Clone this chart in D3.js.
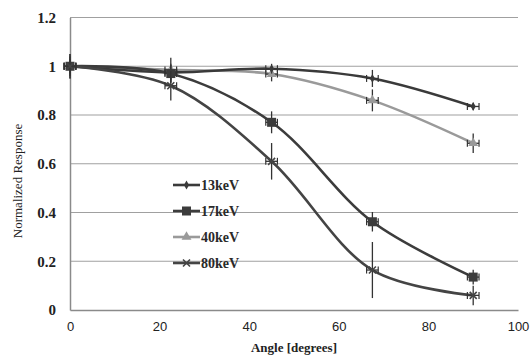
<!DOCTYPE html>
<html><head><meta charset="utf-8">
<script src="https://cdn.jsdelivr.net/npm/d3@7/dist/d3.min.js"></script>
<style>body{margin:0;background:#fff}svg{display:block}</style>
</head><body>
<svg id="c" width="530" height="356"></svg>
<script>
const angles = [0, 22.5, 45, 67.5, 90];
const seriesNames = ["13keV", "17keV", "40keV", "80keV"];
const v13 = [1.0, 0.975, 0.99, 0.95, 0.835];
const v17 = [1.0, 0.97, 0.77, 0.362, 0.135];
const v40 = [1.0, 0.985, 0.968, 0.86, 0.684];
const v80 = [1.0, 0.92, 0.61, 0.164, 0.06];
// vertical error (half-widths)
const e13 = [0.05, 0.03, 0.02, 0.035, 0.015];
const e17 = [0.04, 0.04, 0.045, 0.04, 0.03];
const e40 = [0.03, 0.05, 0.03, 0.045, 0.04];
const e80 = [0.05, 0.06, 0.075, 0.115, 0.04];
const xTicks = [0, 20, 40, 60, 80, 100];
const yTicks = [0, 0.2, 0.4, 0.6, 0.8, 1, 1.2];
const yTickLabels = ["0", "0.2", "0.4", "0.6", "0.8", "1", "1.2"];
const colors = ["#3a3a3a", "#3c3c3c", "#9a9a9a", "#444444"];
const symbols = ["diamond", "square", "triangle", "x"];

const svg = d3.select("#c");
const x = d3.scaleLinear().domain([0, 100]).range([70, 518]);
const y = d3.scaleLinear().domain([0, 1.2]).range([310, 17.5]);

// gridlines
svg.append("g").selectAll("line").data(yTicks.filter(d => d > 0)).join("line")
  .attr("x1", x(0)).attr("x2", x(100)).attr("y1", d => y(d)).attr("y2", d => y(d))
  .attr("stroke", "#a0a0a0").attr("stroke-width", 1.2);

// axes
const yAxis = d3.axisLeft(y).tickValues(yTicks).tickFormat((d, i) => yTickLabels[i]).tickSize(0).tickPadding(14);
const gy = svg.append("g").attr("transform", `translate(${x(0)},0)`).call(yAxis);
gy.select(".domain").attr("stroke", "#8a8a8a").attr("stroke-width", 1.5);
gy.selectAll("text").attr("font-family", "Liberation Serif, DejaVu Serif, serif").attr("font-weight", "bold").attr("font-size", 15).attr("fill", "#222");

const xAxis = d3.axisBottom(x).tickValues(xTicks).tickSize(0).tickPadding(12);
const gx = svg.append("g").attr("transform", `translate(0,${y(0)})`).call(xAxis);
gx.select(".domain").attr("stroke", "#8a8a8a").attr("stroke-width", 1.5);
gx.selectAll("text").attr("font-family", "Liberation Sans, Arial, sans-serif").attr("font-size", 13).attr("fill", "#222");

// titles
svg.append("text").attr("x", 294).attr("y", 352).attr("text-anchor", "middle")
  .attr("font-family", "Liberation Serif, DejaVu Serif, serif").attr("font-weight", "bold").attr("font-size", 13).attr("fill", "#222")
  .text("Angle [degrees]");
svg.append("text").attr("transform", "translate(22,181) rotate(-90)").attr("text-anchor", "middle")
  .attr("font-family", "Liberation Serif, DejaVu Serif, serif").attr("font-size", 13).attr("fill", "#222")
  .text("Normalized Response");

const all = [v13, v17, v40, v80];
const errs = [e13, e17, e40, e80];
const line = d3.line().x(d => x(d[0])).y(d => y(d[1])).curve(d3.curveCatmullRom.alpha(0.5));

function marker(g, type, color, size) {
  if (type === "diamond") g.append("path").attr("d", d3.symbol(d3.symbolDiamond, size * 3.2)()).attr("fill", color);
  else if (type === "square") g.append("rect").attr("x", -size / 2).attr("y", -size / 2).attr("width", size).attr("height", size).attr("fill", color);
  else if (type === "triangle") g.append("path").attr("d", d3.symbol(d3.symbolTriangle, size * 6)()).attr("fill", color);
  else g.append("path").attr("d", `M${-size/2},${-size/2}L${size/2},${size/2}M${-size/2},${size/2}L${size/2},${-size/2}`).attr("stroke", color).attr("stroke-width", 1.6);
}

// draw order: 40 (light) behind, then 13, 17, 80
const order = [2, 0, 1, 3];
order.forEach(si => {
  const pts = angles.map((a, i) => [a, all[si][i]]);
  svg.append("path").attr("d", line(pts)).attr("fill", "none").attr("stroke", colors[si]).attr("stroke-width", 2.6);
});
order.forEach(si => {
  const g = svg.append("g");
  angles.forEach((a, i) => {
    const v = all[si][i], e = errs[si][i];
    // vertical error bar
    g.append("line").attr("x1", x(a)).attr("x2", x(a)).attr("y1", y(v + e)).attr("y2", y(v - e))
      .attr("stroke", "#333").attr("stroke-width", 1.3);
    // horizontal error bar with caps
    g.append("line").attr("x1", x(a - 1.3)).attr("x2", x(a + 1.3)).attr("y1", y(v)).attr("y2", y(v))
      .attr("stroke", "#333").attr("stroke-width", 1.3);
    [a - 1.3, a + 1.3].forEach(c => g.append("line").attr("x1", x(c)).attr("x2", x(c)).attr("y1", y(v) - 3.5).attr("y2", y(v) + 3.5)
      .attr("stroke", "#333").attr("stroke-width", 1.2));
    const mg = g.append("g").attr("transform", `translate(${x(a)},${y(v)})`);
    marker(mg, symbols[si], colors[si], si === 1 ? 9 : 7);
  });
});

// legend
const legY = [185, 211, 237, 263];
seriesNames.forEach((n, i) => {
  const g = svg.append("g").attr("transform", `translate(173,${legY[i]})`);
  g.append("line").attr("x1", 0).attr("x2", 27).attr("y1", 0).attr("y2", 0).attr("stroke", colors[i]).attr("stroke-width", 2.6);
  const mg = g.append("g").attr("transform", "translate(13.5,0)");
  marker(mg, symbols[i], colors[i], i === 1 ? 9 : 7);
  g.append("text").attr("x", 28).attr("y", 5).attr("font-family", "Liberation Serif, DejaVu Serif, serif").attr("font-weight", "bold")
    .attr("font-size", 14).attr("fill", "#2a2a2a").text(n);
});
</script>
</body></html>
